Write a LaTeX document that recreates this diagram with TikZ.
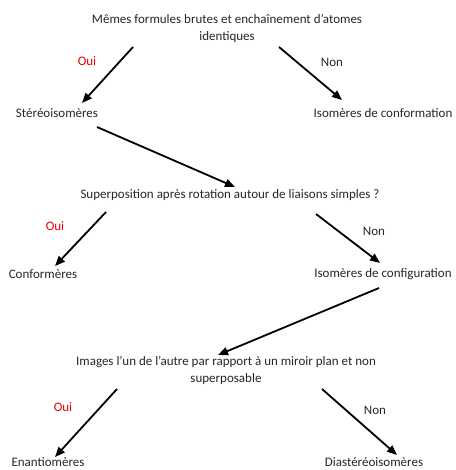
\documentclass[tikz,border=0pt]{standalone}
\usepackage{fontspec}
\setmainfont{Carlito}
\usetikzlibrary{arrows.meta,calc}
\tikzset{
  isofont/.style={font=\fontsize{13}{17}\selectfont},
  term/.style={inner sep=0pt, align=center, text=black!85},
  flowarr/.style={-{Triangle[length=10pt,width=8pt]}, line width=1.8pt, draw=black},
  oui/.style={inner sep=0pt, text=red!90!black},
  non/.style={inner sep=0pt, text=black!85},
}

\begin{document}
\begin{tikzpicture}[x=1pt, y=-1pt, isofont]
  \useasboundingbox (0,0) rectangle (455,470);
  \node[term] (title) at (227,28.5) {Mêmes formules brutes et enchaînement d'atomes\\identiques};
  \node[term] (stereo) at (57,113) {Stéréoisomères};
  \node[term] (conform) at (383,113) {Isomères de conformation};
  \node[term] (superp) at (230,195) {Superposition après rotation autour de liaisons simples ?};
  \node[term] (conformeres) at (43,274) {Conformères};
  \node[term] (config) at (383,274) {Isomères de configuration};
  \node[term] (images) at (226,370.5) {Images l'un de l'autre par rapport à un miroir plan et non\\superposable};
  \node[term] (enantio) at (48,462) {Enantiomères};
  \node[term] (diast) at (374,462) {Diastéréoisomères};
  % oui / non
  \node[oui] (oui1) at (87,61) {Oui};
  \node[non] (non1) at (332,62) {Non};
  \node[oui] (oui2) at (55,226) {Oui};
  \node[non] (non2) at (374,231) {Non};
  \node[oui] (oui3) at (63,407) {Oui};
  \node[non] (non3) at (375,410) {Non};
  % arrows
  \draw[flowarr] ($(title.center)+(-94,18.5)$) -- ($(stereo.center)+(25,-10)$);
  \draw[flowarr] ($(title.center)+(52,18.5)$) -- ($(conform.center)+(-41,-13)$);
  \draw[flowarr] ($(stereo.center)+(40,14)$) -- ($(superp.center)+(5,-8)$);
  \draw[flowarr] ($(superp.center)+(-124,17)$) -- ($(conformeres.center)+(12,-8)$);
  \draw[flowarr] ($(superp.center)+(86,19)$) -- ($(config.center)+(-3,-11)$);
  \draw[flowarr] ($(config.center)+(-4,14)$) -- ($(images.center)+(-8,-15.5)$);
  \draw[flowarr] ($(images.center)+(-109,18.5)$) -- ($(enantio.center)+(7,-5)$);
  \draw[flowarr] ($(images.center)+(96,18.5)$) -- ($(diast.center)+(23,-7)$);
\end{tikzpicture}
\end{document}
